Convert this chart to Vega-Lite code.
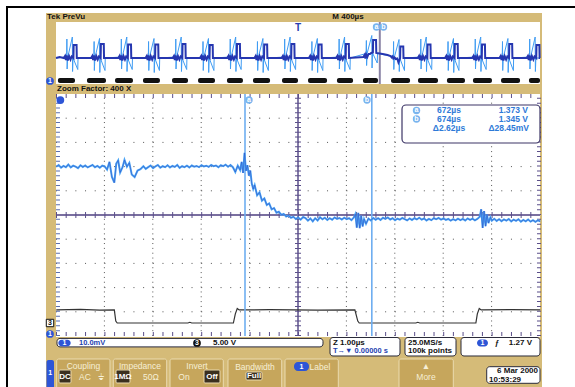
{
"$schema": "https://vega.github.io/schema/vega-lite/v6.json",
"width": 575, "height": 387, "autosize": {"type": "none"}, "padding": 0,
"background": "#ffffff",
"config": {"view": {"stroke": null}},
"datasets": {
"box": [
{"k":"border","x0":-1.0124,"x1":11.5,"y0":-3,"y1":13.595},
{"k":"frame","x0":-0.2066,"x1":10.0413,"y0":-3,"y1":13.3471},
{"k":"white","x0":0,"x1":10.0,"y0":10.4132,"y1":12.9752},
{"k":"white","x0":0,"x1":10.0,"y0":-0.0413,"y1":10.0},
{"k":"button","x0":0.0145,"x1":1.1157,"y0":-2.3,"y1":-0.9504},
{"k":"button","x0":1.1839,"x1":2.2872,"y0":-2.3,"y1":-0.9504},
{"k":"button","x0":2.3554,"x1":3.4566,"y0":-2.3,"y1":-0.9504},
{"k":"button","x0":3.5537,"x1":4.6632,"y0":-2.3,"y1":-0.9504},
{"k":"button","x0":4.7314,"x1":5.8326,"y0":-2.3,"y1":-0.9504},
{"k":"button","x0":7.0868,"x1":8.2087,"y0":-2.3,"y1":-0.9504},
{"k":"box","x0":0.0207,"x1":5.5165,"y0":-0.45,"y1":-0.10},
{"k":"box","x0":5.6612,"x1":7.1074,"y0":-0.8264,"y1":-0.062},
{"k":"box","x0":7.2107,"x1":8.2645,"y0":-0.8264,"y1":-0.062},
{"k":"box","x0":8.3678,"x1":10.0,"y0":-0.8264,"y1":-0.062},
{"k":"box","x0":8.8988,"x1":10.0,"y0":-1.9545,"y1":-1.2686},
{"k":"readout","x0":7.1488,"x1":10.0,"y0":7.9752,"y1":9.5455},
{"k":"sel","x0":0.062,"x1":0.3099,"y0":-1.9421,"y1":-1.405},
{"k":"sel","x0":1.2397,"x1":1.5289,"y0":-1.9421,"y1":-1.405},
{"k":"sel","x0":3.0579,"x1":3.3884,"y0":-1.9421,"y1":-1.405},
{"k":"sel","x0":3.9256,"x1":4.2562,"y0":-1.8182,"y1":-1.4876},
{"k":"tab","x0":-0.1963,"x1":-0.0413,"y0":-2.3,"y1":-0.9917},
{"k":"pill","x0":0.0475,"x1":0.3037,"y0":-0.42,"y1":-0.16},
{"k":"pill","x0":8.6983,"x1":8.9256,"y0":-0.4339,"y1":-0.1446},
{"k":"pill","x0":4.9174,"x1":5.2273,"y0":-1.4463,"y1":-1.0744}
],
"dot": [
{"k":"lb","x":3.9876,"y":9.7521},{"k":"lb","x":6.4256,"y":9.7521},
{"k":"lb","x":7.4483,"y":9.3182},{"k":"lb","x":7.4483,"y":8.9669},
{"k":"lb","x":6.6219,"y":12.7686},{"k":"lb","x":6.7665,"y":12.7686},
{"k":"db","x":-0.124,"y":10.5372},{"k":"db","x":-0.124,"y":0.0826},{"k":"db","x":0.09,"y":9.75},
{"k":"bk","x":2.9132,"y":-0.2893},
{"k":"ws","x":-0.124,"y":0.5372}
],
"txt": [
{"k":"hb","x":-0.186,"y":13.1612,"s":"Tek PreVu"},
{"k":"hb","x":0.0207,"y":10.2066,"s":"Zoom Factor: 400 X"},
{"k":"hb","x":3.2438,"y":-0.2893,"s":"5.00 V"},
{"k":"hb","x":5.7231,"y":-0.2686,"s":"Z 1.00µs"},
{"k":"hb","x":7.2727,"y":-0.2686,"s":"25.0MS/s"},
{"k":"hb","x":7.2727,"y":-0.6198,"s":"100k points"},
{"k":"hb","x":8.9463,"y":-1.8182,"s":"10:53:29"},
{"k":"hbc","x":6.0331,"y":13.1612,"s":"M 400µs"},
{"k":"hbc","x":9.1116,"y":-0.2893,"s":"ƒ"},
{"k":"hbr","x":9.9587,"y":-1.4669,"s":"6 Mar 2000"},
{"k":"hbr","x":9.8347,"y":-0.2893,"s":"1.27 V"},
{"k":"ro","x":8.1198,"y":9.3182,"s":"672µs"},
{"k":"ro","x":8.1198,"y":8.9669,"s":"674µs"},
{"k":"ro","x":8.1198,"y":8.5744,"s":"Δ2.62µs"},
{"k":"ror","x":9.7521,"y":9.3182,"s":"1.373 V"},
{"k":"ror","x":9.7521,"y":8.9669,"s":"1.345 V"},
{"k":"ror","x":9.7727,"y":8.5744,"s":"Δ28.45mV"},
{"k":"bl","x":0.4752,"y":-0.2893,"s":"10.0mV"},
{"k":"bl","x":5.7231,"y":-0.6198,"s":"T→▼ 0.00000 s"},
{"k":"wsm","x":3.9876,"y":9.7521,"s":"a"},{"k":"wsm","x":6.4256,"y":9.7521,"s":"b"},
{"k":"wsm","x":7.4483,"y":9.3182,"s":"a"},{"k":"wsm","x":7.4483,"y":8.9669,"s":"b"},
{"k":"wsm","x":6.6219,"y":12.7686,"s":"a"},{"k":"wsm","x":6.7665,"y":12.7686,"s":"b"},
{"k":"wsm","x":-0.124,"y":10.5372,"s":"1"},{"k":"wsm","x":-0.124,"y":0.0826,"s":"1"},
{"k":"wsm","x":0.1756,"y":-0.2893,"s":"1"},{"k":"wsm","x":8.812,"y":-0.2893,"s":"1"},
{"k":"wsm","x":5.0723,"y":-1.2603,"s":"1"},{"k":"wsm","x":2.9132,"y":-0.2893,"s":"3"},
{"k":"wsm","x":-0.1188,"y":-1.5289,"s":"1"},
{"k":"wmd","x":0.186,"y":-1.6736,"s":"DC"},
{"k":"wmd","x":1.3843,"y":-1.6736,"s":"1MΩ"},
{"k":"wmd","x":3.2231,"y":-1.6736,"s":"Off"},
{"k":"wmd","x":4.0909,"y":-1.6529,"s":"Full"},
{"k":"cc","x":0.5682,"y":-1.2397,"s":"Coupling"},
{"k":"cc","x":1.7355,"y":-1.2397,"s":"Impedance"},
{"k":"cc","x":2.9132,"y":-1.2397,"s":"Invert"},
{"k":"cc","x":4.1116,"y":-1.281,"s":"Bandwidth"},
{"k":"cc","x":5.4545,"y":-1.2603,"s":"Label"},
{"k":"cc","x":7.6446,"y":-1.6942,"s":"More"},
{"k":"cc","x":7.6446,"y":-1.2397,"s":"▲"},
{"k":"cc","x":0.5992,"y":-1.6736,"s":"AC"},
{"k":"cc","x":0.9298,"y":-1.6736,"s":"⏚"},
{"k":"cc","x":1.9628,"y":-1.6736,"s":"50Ω"},
{"k":"cc","x":2.6446,"y":-1.6736,"s":"On"},
{"k":"kc","x":-0.124,"y":0.5372,"s":"3"},
{"k":"tT","x":5.0,"y":12.72,"s":"T"}
],
"pb": [
{"a":-1984,"b":-1843},{"a":-1744,"b":-1587},{"a":-1512,"b":-1364},{"a":-1281,"b":-1141},{"a":-1041,"b":-909},{"a":-826,"b":-686},{"a":-587,"b":-455},{"a":-372,"b":-231},{"a":-132,"b":0},{"a":83,"b":240},{"a":322,"b":455},{"a":537,"b":661},{"a":769,"b":926},{"a":992,"b":1157},{"a":1231,"b":1380},{"a":1446,"b":1603},{"a":1678,"b":1835},{"a":1909,"b":2000}
],
"pd": [
{"t":-2000,"v":1345},{"t":-1970,"v":1347},
{"t":-1935,"v":1345},{"t":-1925,"v":1349},{"t":-1918,"v":1341},{"t":-1912,"v":1350},{"t":-1902,"v":1340},{"t":-1892,"v":1349},{"t":-1880,"v":1342},{"t":-1870,"v":1348},{"t":-1856,"v":1345},{"t":-1854,"v":1371},{"t":-1830,"v":1371},{"t":-1828,"v":1345},
{"t":-1710,"v":1345},{"t":-1700,"v":1349},{"t":-1693,"v":1341},{"t":-1687,"v":1350},{"t":-1677,"v":1340},{"t":-1667,"v":1349},{"t":-1655,"v":1342},{"t":-1645,"v":1348},{"t":-1631,"v":1345},{"t":-1629,"v":1373},{"t":-1605,"v":1373},{"t":-1603,"v":1345},
{"t":-1485,"v":1345},{"t":-1475,"v":1349},{"t":-1468,"v":1341},{"t":-1462,"v":1350},{"t":-1452,"v":1340},{"t":-1442,"v":1349},{"t":-1430,"v":1342},{"t":-1420,"v":1348},{"t":-1406,"v":1345},{"t":-1404,"v":1372},{"t":-1380,"v":1372},{"t":-1378,"v":1345},
{"t":-1260,"v":1345},{"t":-1250,"v":1349},{"t":-1243,"v":1341},{"t":-1237,"v":1350},{"t":-1227,"v":1340},{"t":-1217,"v":1349},{"t":-1205,"v":1342},{"t":-1195,"v":1348},{"t":-1181,"v":1345},{"t":-1179,"v":1372},{"t":-1155,"v":1372},{"t":-1153,"v":1345},
{"t":-1035,"v":1345},{"t":-1025,"v":1349},{"t":-1018,"v":1341},{"t":-1012,"v":1350},{"t":-1002,"v":1340},{"t":-992,"v":1349},{"t":-980,"v":1342},{"t":-970,"v":1348},{"t":-956,"v":1345},{"t":-954,"v":1373},{"t":-930,"v":1373},{"t":-928,"v":1345},
{"t":-810,"v":1345},{"t":-800,"v":1349},{"t":-793,"v":1341},{"t":-787,"v":1350},{"t":-777,"v":1340},{"t":-767,"v":1349},{"t":-755,"v":1342},{"t":-745,"v":1348},{"t":-731,"v":1345},{"t":-729,"v":1371},{"t":-705,"v":1371},{"t":-703,"v":1345},
{"t":-585,"v":1345},{"t":-575,"v":1349},{"t":-568,"v":1341},{"t":-562,"v":1350},{"t":-552,"v":1340},{"t":-542,"v":1349},{"t":-530,"v":1342},{"t":-520,"v":1348},{"t":-506,"v":1345},{"t":-504,"v":1373},{"t":-480,"v":1373},{"t":-478,"v":1345},
{"t":-360,"v":1345},{"t":-350,"v":1349},{"t":-343,"v":1341},{"t":-337,"v":1350},{"t":-327,"v":1340},{"t":-317,"v":1349},{"t":-305,"v":1342},{"t":-295,"v":1348},{"t":-281,"v":1345},{"t":-279,"v":1372},{"t":-255,"v":1372},{"t":-253,"v":1345},
{"t":-135,"v":1345},{"t":-125,"v":1349},{"t":-118,"v":1341},{"t":-112,"v":1350},{"t":-102,"v":1340},{"t":-92,"v":1349},{"t":-80,"v":1342},{"t":-70,"v":1348},{"t":-56,"v":1345},{"t":-54,"v":1373},{"t":-30,"v":1373},{"t":-28,"v":1345},
{"t":90,"v":1345},{"t":100,"v":1349},{"t":107,"v":1341},{"t":113,"v":1350},{"t":123,"v":1340},{"t":133,"v":1349},{"t":145,"v":1342},{"t":155,"v":1348},{"t":169,"v":1345},{"t":171,"v":1372},{"t":195,"v":1372},{"t":197,"v":1345},
{"t":315,"v":1345},{"t":325,"v":1349},{"t":332,"v":1341},{"t":338,"v":1350},{"t":348,"v":1340},{"t":358,"v":1349},{"t":370,"v":1342},{"t":380,"v":1348},{"t":394,"v":1345},{"t":396,"v":1373},{"t":420,"v":1373},{"t":422,"v":1345},
{"t":540,"v":1347},{"t":550,"v":1351},{"t":557,"v":1344},{"t":563,"v":1352},{"t":573,"v":1347},{"t":583,"v":1353},{"t":595,"v":1353},{"t":605,"v":1355},{"t":619,"v":1356},{"t":621,"v":1381},{"t":645,"v":1381},{"t":647,"v":1355},{"t":700,"v":1353},{"t":740,"v":1351},
{"t":765,"v":1349},{"t":775,"v":1346},{"t":782,"v":1348},{"t":788,"v":1344},{"t":798,"v":1346},{"t":808,"v":1343},{"t":820,"v":1344},{"t":830,"v":1336},{"t":844,"v":1345},{"t":846,"v":1368},{"t":870,"v":1368},{"t":872,"v":1345},
{"t":990,"v":1345},{"t":1000,"v":1349},{"t":1007,"v":1341},{"t":1013,"v":1350},{"t":1023,"v":1340},{"t":1033,"v":1349},{"t":1045,"v":1342},{"t":1055,"v":1348},{"t":1069,"v":1345},{"t":1071,"v":1372},{"t":1095,"v":1372},{"t":1097,"v":1345},
{"t":1215,"v":1345},{"t":1225,"v":1349},{"t":1232,"v":1341},{"t":1238,"v":1350},{"t":1248,"v":1340},{"t":1258,"v":1349},{"t":1270,"v":1342},{"t":1280,"v":1348},{"t":1294,"v":1345},{"t":1296,"v":1373},{"t":1320,"v":1373},{"t":1322,"v":1345},
{"t":1440,"v":1345},{"t":1450,"v":1349},{"t":1457,"v":1341},{"t":1463,"v":1350},{"t":1473,"v":1340},{"t":1483,"v":1349},{"t":1495,"v":1342},{"t":1505,"v":1348},{"t":1519,"v":1345},{"t":1521,"v":1372},{"t":1545,"v":1372},{"t":1547,"v":1345},
{"t":1665,"v":1345},{"t":1675,"v":1349},{"t":1682,"v":1341},{"t":1688,"v":1350},{"t":1698,"v":1340},{"t":1708,"v":1349},{"t":1720,"v":1342},{"t":1730,"v":1348},{"t":1744,"v":1345},{"t":1746,"v":1373},{"t":1770,"v":1373},{"t":1772,"v":1345},
{"t":1890,"v":1345},{"t":1900,"v":1349},{"t":1907,"v":1341},{"t":1913,"v":1350},{"t":1923,"v":1340},{"t":1933,"v":1349},{"t":1945,"v":1342},{"t":1955,"v":1348},{"t":1969,"v":1345},{"t":1971,"v":1371},{"t":1995,"v":1371},{"t":1997,"v":1345},
{"t":2000,"v":1345}
],
"pl": [
{"t":-2000,"v":1345},
{"t":-1912,"v":1347},{"t":-1910,"v":1383},{"t":-1908,"v":1323},{"t":-1904,"v":1345},{"t":-1865,"v":1387},{"t":-1863,"v":1318},{"t":-1859,"v":1345},{"t":-1820,"v":1322},{"t":-1818,"v":1345},
{"t":-1687,"v":1346},{"t":-1685,"v":1378},{"t":-1683,"v":1320},{"t":-1679,"v":1345},{"t":-1640,"v":1384},{"t":-1638,"v":1316},{"t":-1634,"v":1345},{"t":-1595,"v":1320},{"t":-1593,"v":1345},
{"t":-1462,"v":1347},{"t":-1460,"v":1383},{"t":-1458,"v":1323},{"t":-1454,"v":1345},{"t":-1415,"v":1387},{"t":-1413,"v":1318},{"t":-1409,"v":1345},{"t":-1370,"v":1322},{"t":-1368,"v":1345},
{"t":-1237,"v":1346},{"t":-1235,"v":1378},{"t":-1233,"v":1320},{"t":-1229,"v":1345},{"t":-1190,"v":1384},{"t":-1188,"v":1316},{"t":-1184,"v":1345},{"t":-1145,"v":1320},{"t":-1143,"v":1345},
{"t":-1012,"v":1347},{"t":-1010,"v":1383},{"t":-1008,"v":1323},{"t":-1004,"v":1345},{"t":-965,"v":1387},{"t":-963,"v":1318},{"t":-959,"v":1345},{"t":-920,"v":1322},{"t":-918,"v":1345},
{"t":-787,"v":1346},{"t":-785,"v":1378},{"t":-783,"v":1320},{"t":-779,"v":1345},{"t":-740,"v":1384},{"t":-738,"v":1316},{"t":-734,"v":1345},{"t":-695,"v":1320},{"t":-693,"v":1345},
{"t":-562,"v":1347},{"t":-560,"v":1383},{"t":-558,"v":1323},{"t":-554,"v":1345},{"t":-515,"v":1387},{"t":-513,"v":1318},{"t":-509,"v":1345},{"t":-470,"v":1322},{"t":-468,"v":1345},
{"t":-337,"v":1346},{"t":-335,"v":1378},{"t":-333,"v":1320},{"t":-329,"v":1345},{"t":-290,"v":1384},{"t":-288,"v":1316},{"t":-284,"v":1345},{"t":-245,"v":1320},{"t":-243,"v":1345},
{"t":-112,"v":1347},{"t":-110,"v":1383},{"t":-108,"v":1323},{"t":-104,"v":1345},{"t":-65,"v":1387},{"t":-63,"v":1318},{"t":-59,"v":1345},{"t":-20,"v":1322},{"t":-18,"v":1345},
{"t":113,"v":1346},{"t":115,"v":1378},{"t":117,"v":1320},{"t":121,"v":1345},{"t":160,"v":1384},{"t":162,"v":1316},{"t":166,"v":1345},{"t":205,"v":1320},{"t":207,"v":1345},
{"t":338,"v":1347},{"t":340,"v":1383},{"t":342,"v":1323},{"t":346,"v":1345},{"t":385,"v":1387},{"t":387,"v":1318},{"t":391,"v":1345},{"t":430,"v":1322},{"t":432,"v":1345},
{"t":563,"v":1354},{"t":565,"v":1380},{"t":567,"v":1330},{"t":571,"v":1354},{"t":610,"v":1390},{"t":612,"v":1325},{"t":616,"v":1355},{"t":655,"v":1335},{"t":657,"v":1354},
{"t":788,"v":1348},{"t":790,"v":1378},{"t":792,"v":1322},{"t":796,"v":1346},{"t":835,"v":1382},{"t":837,"v":1318},{"t":841,"v":1345},{"t":880,"v":1320},{"t":882,"v":1345},
{"t":1013,"v":1347},{"t":1015,"v":1383},{"t":1017,"v":1323},{"t":1021,"v":1345},{"t":1060,"v":1387},{"t":1062,"v":1318},{"t":1066,"v":1345},{"t":1105,"v":1322},{"t":1107,"v":1345},
{"t":1238,"v":1346},{"t":1240,"v":1378},{"t":1242,"v":1320},{"t":1246,"v":1345},{"t":1285,"v":1384},{"t":1287,"v":1316},{"t":1291,"v":1345},{"t":1330,"v":1320},{"t":1332,"v":1345},
{"t":1463,"v":1347},{"t":1465,"v":1383},{"t":1467,"v":1323},{"t":1471,"v":1345},{"t":1510,"v":1387},{"t":1512,"v":1318},{"t":1516,"v":1345},{"t":1555,"v":1322},{"t":1557,"v":1345},
{"t":1688,"v":1346},{"t":1690,"v":1378},{"t":1692,"v":1320},{"t":1696,"v":1345},{"t":1735,"v":1384},{"t":1737,"v":1316},{"t":1741,"v":1345},{"t":1780,"v":1320},{"t":1782,"v":1345},
{"t":1913,"v":1347},{"t":1915,"v":1383},{"t":1917,"v":1323},{"t":1921,"v":1345},{"t":1960,"v":1387},{"t":1962,"v":1318},{"t":1966,"v":1345},
{"t":2000,"v":1345}
],
"c3": [
{"t":668.1,"v":2.7},{"t":668.6,"v":2.8},{"t":669.0,"v":2.65},{"t":669.3,"v":2.7},{"t":669.33,"v":0.4},{"t":669.36,"v":0.0},
{"t":670.82,"v":0.0},{"t":670.86,"v":0.15},{"t":670.9,"v":0.0},{"t":671.76,"v":0.0},{"t":671.8,"v":1.9},{"t":671.84,"v":3.0},{"t":671.88,"v":2.7},
{"t":672.5,"v":2.75},{"t":673.5,"v":2.65},{"t":674.27,"v":2.7},{"t":674.33,"v":0.4},{"t":674.36,"v":0.0},
{"t":675.53,"v":0.0},{"t":675.57,"v":0.15},{"t":675.61,"v":0.0},{"t":676.77,"v":0.0},{"t":676.8,"v":1.9},{"t":676.84,"v":3.0},{"t":676.88,"v":2.7},
{"t":677.5,"v":2.75},{"t":678.1,"v":2.7}
],
"c1": [
{"t":668.10,"v":1366.2},{"t":668.15,"v":1366.9},{"t":668.20,"v":1365.8},{"t":668.25,"v":1366.5},{"t":668.30,"v":1366.0},{"t":668.35,"v":1367.1},{"t":668.40,"v":1365.9},{"t":668.45,"v":1366.6},{"t":668.50,"v":1366.2},{"t":668.55,"v":1365.6},{"t":668.60,"v":1366.8},{"t":668.65,"v":1366.1},{"t":668.70,"v":1366.7},{"t":668.75,"v":1365.9},{"t":668.80,"v":1366.4},{"t":668.85,"v":1366.9},{"t":668.90,"v":1366.0},{"t":668.95,"v":1366.5},{"t":669.00,"v":1365.8},{"t":669.05,"v":1366.6},{"t":669.10,"v":1366.3},
{"t":669.15,"v":1365.0},{"t":669.20,"v":1368.2},{"t":669.25,"v":1362.0},{"t":669.30,"v":1359.6},{"t":669.34,"v":1367.5},{"t":669.38,"v":1368.8},{"t":669.42,"v":1363.8},{"t":669.47,"v":1366.0},{"t":669.51,"v":1369.0},{"t":669.56,"v":1366.2},{"t":669.61,"v":1367.8},{"t":669.66,"v":1363.0},{"t":669.72,"v":1361.9},{"t":669.78,"v":1364.6},{"t":669.84,"v":1365.2},{"t":669.90,"v":1366.4},{"t":669.95,"v":1365.3},{"t":670.00,"v":1366.0},
{"t":670.05,"v":1366.7},{"t":670.10,"v":1365.6},{"t":670.15,"v":1366.3},{"t":670.20,"v":1366.9},{"t":670.25,"v":1365.8},{"t":670.30,"v":1366.4},{"t":670.35,"v":1366.0},{"t":670.40,"v":1366.8},{"t":670.45,"v":1365.9},{"t":670.50,"v":1366.5},{"t":670.55,"v":1366.1},{"t":670.60,"v":1366.9},{"t":670.65,"v":1365.7},{"t":670.70,"v":1366.4},{"t":670.75,"v":1366.0},{"t":670.80,"v":1366.6},{"t":670.85,"v":1365.9},{"t":670.90,"v":1366.7},{"t":670.95,"v":1366.2},{"t":671.00,"v":1366.5},{"t":671.05,"v":1366.0},{"t":671.10,"v":1366.8},{"t":671.15,"v":1366.3},{"t":671.20,"v":1366.6},{"t":671.25,"v":1366.1},{"t":671.30,"v":1366.9},{"t":671.35,"v":1366.4},{"t":671.40,"v":1366.7},{"t":671.45,"v":1366.0},{"t":671.50,"v":1366.8},{"t":671.55,"v":1366.4},{"t":671.60,"v":1367.0},{"t":671.65,"v":1366.2},{"t":671.70,"v":1366.9},{"t":671.75,"v":1366.0},
{"t":671.80,"v":1364.0},{"t":671.85,"v":1366.6},{"t":671.90,"v":1364.8},{"t":671.93,"v":1368.2},{"t":671.96,"v":1363.6},{"t":671.99,"v":1371.9},{"t":672.02,"v":1364.5},{"t":672.05,"v":1366.8},{"t":672.08,"v":1362.5},{"t":672.11,"v":1364.6},{"t":672.14,"v":1359.2},{"t":672.17,"v":1357.0},{"t":672.20,"v":1358.6},{"t":672.25,"v":1354.4},{"t":672.30,"v":1355.6},{"t":672.35,"v":1352.2},{"t":672.40,"v":1353.1},{"t":672.45,"v":1350.4},{"t":672.50,"v":1351.0},{"t":672.55,"v":1348.6},{"t":672.60,"v":1349.1},{"t":672.65,"v":1347.2},{"t":672.70,"v":1347.6},{"t":672.75,"v":1346.3},{"t":672.80,"v":1346.7},{"t":672.85,"v":1345.6},{"t":672.90,"v":1346.0},{"t":672.95,"v":1345.1},
{"t":673.00,"v":1345.5},{"t":673.05,"v":1344.6},{"t":673.10,"v":1345.2},{"t":673.15,"v":1344.3},{"t":673.20,"v":1345.4},{"t":673.25,"v":1345.0},{"t":673.30,"v":1343.9},{"t":673.35,"v":1344.8},{"t":673.40,"v":1343.6},{"t":673.45,"v":1344.9},{"t":673.50,"v":1344.0},{"t":673.55,"v":1345.3},{"t":673.60,"v":1344.5},{"t":673.65,"v":1345.1},{"t":673.70,"v":1344.2},{"t":673.75,"v":1344.9},{"t":673.80,"v":1344.3},{"t":673.85,"v":1345.2},{"t":673.90,"v":1344.6},{"t":673.95,"v":1345.0},{"t":674.00,"v":1344.4},{"t":674.05,"v":1345.1},{"t":674.10,"v":1344.5},{"t":674.15,"v":1344.9},{"t":674.20,"v":1344.1},
{"t":674.25,"v":1345.3},{"t":674.28,"v":1346.6},{"t":674.31,"v":1341.0},{"t":674.34,"v":1347.1},{"t":674.37,"v":1340.8},{"t":674.40,"v":1346.0},{"t":674.43,"v":1341.5},{"t":674.46,"v":1344.6},{"t":674.50,"v":1342.6},{"t":674.55,"v":1344.8},{"t":674.60,"v":1344.0},{"t":674.65,"v":1345.0},{"t":674.70,"v":1344.3},{"t":674.75,"v":1344.9},{"t":674.80,"v":1344.2},{"t":674.85,"v":1345.1},{"t":674.90,"v":1344.6},{"t":674.95,"v":1345.2},
{"t":675.00,"v":1344.4},{"t":675.05,"v":1344.9},{"t":675.10,"v":1344.1},{"t":675.15,"v":1344.7},{"t":675.20,"v":1344.3},{"t":675.25,"v":1345.0},{"t":675.30,"v":1344.5},{"t":675.35,"v":1344.0},{"t":675.40,"v":1344.8},{"t":675.45,"v":1344.2},{"t":675.50,"v":1344.9},{"t":675.55,"v":1344.4},{"t":675.60,"v":1345.1},{"t":675.65,"v":1344.3},{"t":675.70,"v":1344.8},{"t":675.75,"v":1344.0},{"t":675.80,"v":1344.6},{"t":675.85,"v":1344.1},{"t":675.90,"v":1344.9},{"t":675.95,"v":1344.5},
{"t":676.00,"v":1345.0},{"t":676.05,"v":1344.3},{"t":676.10,"v":1344.8},{"t":676.15,"v":1344.2},{"t":676.20,"v":1344.6},{"t":676.25,"v":1343.9},{"t":676.30,"v":1344.5},{"t":676.35,"v":1344.0},{"t":676.40,"v":1344.7},{"t":676.45,"v":1344.1},{"t":676.50,"v":1344.6},{"t":676.55,"v":1344.0},{"t":676.60,"v":1344.8},{"t":676.65,"v":1344.2},{"t":676.70,"v":1344.7},{"t":676.75,"v":1344.0},{"t":676.80,"v":1344.6},
{"t":676.85,"v":1345.5},{"t":676.88,"v":1348.6},{"t":676.91,"v":1340.9},{"t":676.94,"v":1347.9},{"t":676.97,"v":1341.6},{"t":677.00,"v":1346.5},{"t":677.03,"v":1342.9},{"t":677.07,"v":1345.3},{"t":677.10,"v":1343.9},{"t":677.15,"v":1344.7},{"t":677.20,"v":1343.8},{"t":677.25,"v":1344.5},{"t":677.30,"v":1343.7},{"t":677.35,"v":1344.4},{"t":677.40,"v":1343.9},{"t":677.45,"v":1344.6},{"t":677.50,"v":1343.6},{"t":677.55,"v":1344.3},{"t":677.60,"v":1343.8},{"t":677.65,"v":1344.5},{"t":677.70,"v":1343.5},{"t":677.75,"v":1344.2},{"t":677.80,"v":1343.6},{"t":677.85,"v":1344.4},{"t":677.90,"v":1343.5},{"t":677.95,"v":1344.1},{"t":678.00,"v":1343.4},{"t":678.05,"v":1344.0},{"t":678.10,"v":1343.6}
],
"cur": [{"t":672.0,"c":"a"},{"t":674.62,"c":"b"}],
"gv": [{"g":1},{"g":2},{"g":3},{"g":4},{"g":6},{"g":7},{"g":8},{"g":9}]
},
"layer": [
{"data":{"name":"box"},"transform":[{"filter":"datum.k=='border'"}],"mark":{"type":"rect","fill":"#ffffff","stroke":"#000000","strokeWidth":2},
 "encoding":{"x":{"field":"x0","type":"quantitative","scale":{"domain":[-1.157,10.7231],"nice":false,"zero":false},"axis":null},"x2":{"field":"x1"},"y":{"field":"y0","type":"quantitative","scale":{"domain":[-2.1074,13.8843],"nice":false,"zero":false},"axis":null},"y2":{"field":"y1"}}},
{"data":{"name":"box"},"transform":[{"filter":"datum.k=='frame'"}],"mark":{"type":"rect","fill":"#d5bb78"},
 "encoding":{"x":{"field":"x0","type":"quantitative","scale":{"domain":[-1.157,10.7231],"nice":false,"zero":false},"axis":null},"x2":{"field":"x1"},"y":{"field":"y0","type":"quantitative","scale":{"domain":[-2.1074,13.8843],"nice":false,"zero":false},"axis":null},"y2":{"field":"y1"}}},
{"data":{"name":"box"},"transform":[{"filter":"datum.k=='white'"}],"mark":{"type":"rect","fill":"#ffffff"},
 "encoding":{"x":{"field":"x0","type":"quantitative","scale":{"domain":[-1.157,10.7231],"nice":false,"zero":false},"axis":null},"x2":{"field":"x1"},"y":{"field":"y0","type":"quantitative","scale":{"domain":[-2.1074,13.8843],"nice":false,"zero":false},"axis":null},"y2":{"field":"y1"}}},
{"data":{"name":"pb"},"mark":{"type":"rect","fill":"#111111","cornerRadius":2},
 "encoding":{"x":{"field":"a","type":"quantitative","scale":{"domain":[-2462.8,2289.3],"nice":false,"zero":false},"axis":null},"x2":{"field":"b"},"y":{"datum":10.6612,"type":"quantitative","scale":{"domain":[-2.1074,13.8843],"nice":false,"zero":false},"axis":null},"y2":{"datum":10.4545}}},
{"data":{"name":"gv"},"mark":{"type":"rule","color":"#555555","strokeWidth":1,"strokeDash":[1,3.84]},
 "encoding":{"x":{"field":"g","type":"quantitative","scale":{"domain":[-1.157,10.7231],"nice":false,"zero":false},"axis":null},"y":{"datum":0,"type":"quantitative","scale":{"domain":[-2.1074,13.8843],"nice":false,"zero":false},"axis":null},"y2":{"datum":10}}},
{"data":{"name":"gv"},"mark":{"type":"rule","color":"#555555","strokeWidth":1,"strokeDash":[1,8.68]},
 "encoding":{"y":{"field":"g","type":"quantitative","scale":{"domain":[-2.1074,13.8843],"nice":false,"zero":false},"axis":null},"x":{"datum":0,"type":"quantitative","scale":{"domain":[-1.157,10.7231],"nice":false,"zero":false},"axis":null},"x2":{"datum":10}}},
{"data":{"values":[{}]},"mark":{"type":"rule","color":"#5b4f8a","strokeWidth":4,"strokeDash":[1,8.68]},
 "encoding":{"y":{"datum":9.917,"type":"quantitative","scale":{"domain":[-2.1074,13.8843],"nice":false,"zero":false},"axis":null},"x":{"datum":0,"type":"quantitative","scale":{"domain":[-1.157,10.7231],"nice":false,"zero":false},"axis":null},"x2":{"datum":10}}},
{"data":{"values":[{}]},"mark":{"type":"rule","color":"#5b4f8a","strokeWidth":4,"strokeDash":[1,8.68]},
 "encoding":{"y":{"datum":0.083,"type":"quantitative","scale":{"domain":[-2.1074,13.8843],"nice":false,"zero":false},"axis":null},"x":{"datum":0,"type":"quantitative","scale":{"domain":[-1.157,10.7231],"nice":false,"zero":false},"axis":null},"x2":{"datum":10}}},
{"data":{"values":[{}]},"mark":{"type":"rule","color":"#5b6fb0","strokeWidth":4,"strokeDash":[1,3.84]},
 "encoding":{"x":{"datum":0.041,"type":"quantitative","scale":{"domain":[-1.157,10.7231],"nice":false,"zero":false},"axis":null},"y":{"datum":0,"type":"quantitative","scale":{"domain":[-2.1074,13.8843],"nice":false,"zero":false},"axis":null},"y2":{"datum":10}}},
{"data":{"values":[{}]},"mark":{"type":"rule","color":"#5b4f8a","strokeWidth":4,"strokeDash":[1,3.84]},
 "encoding":{"x":{"datum":9.979,"type":"quantitative","scale":{"domain":[-1.157,10.7231],"nice":false,"zero":false},"axis":null},"y":{"datum":0,"type":"quantitative","scale":{"domain":[-2.1074,13.8843],"nice":false,"zero":false},"axis":null},"y2":{"datum":10}}},
{"data":{"values":[{}]},"mark":{"type":"rule","color":"#5b4f8a","strokeWidth":1.5},
 "encoding":{"x":{"datum":5,"type":"quantitative","scale":{"domain":[-1.157,10.7231],"nice":false,"zero":false},"axis":null},"y":{"datum":0,"type":"quantitative","scale":{"domain":[-2.1074,13.8843],"nice":false,"zero":false},"axis":null},"y2":{"datum":10}}},
{"data":{"values":[{}]},"mark":{"type":"rule","color":"#5b4f8a","strokeWidth":6,"strokeDash":[1,3.84]},
 "encoding":{"x":{"datum":5,"type":"quantitative","scale":{"domain":[-1.157,10.7231],"nice":false,"zero":false},"axis":null},"y":{"datum":0,"type":"quantitative","scale":{"domain":[-2.1074,13.8843],"nice":false,"zero":false},"axis":null},"y2":{"datum":10}}},
{"data":{"values":[{}]},"mark":{"type":"rule","color":"#7a6fa0","strokeWidth":2},
 "encoding":{"y":{"datum":5,"type":"quantitative","scale":{"domain":[-2.1074,13.8843],"nice":false,"zero":false},"axis":null},"x":{"datum":0,"type":"quantitative","scale":{"domain":[-1.157,10.7231],"nice":false,"zero":false},"axis":null},"x2":{"datum":10}}},
{"data":{"values":[{}]},"mark":{"type":"rule","color":"#5b4f8a","strokeWidth":6,"strokeDash":[1,8.68]},
 "encoding":{"y":{"datum":5,"type":"quantitative","scale":{"domain":[-2.1074,13.8843],"nice":false,"zero":false},"axis":null},"x":{"datum":0,"type":"quantitative","scale":{"domain":[-1.157,10.7231],"nice":false,"zero":false},"axis":null},"x2":{"datum":10}}},
{"data":{"values":[{}]},"mark":{"type":"rule","color":"#8a83a6","strokeWidth":2},
 "encoding":{"x":{"datum":676,"type":"quantitative","scale":{"domain":[-2462.8,2289.3],"nice":false,"zero":false},"axis":null},"y":{"datum":10.4132,"type":"quantitative","scale":{"domain":[-2.1074,13.8843],"nice":false,"zero":false},"axis":null},"y2":{"datum":12.9752}}},
{"data":{"name":"pl"},"mark":{"type":"line","color":"#3f9cf3","strokeWidth":1},
 "encoding":{"x":{"field":"t","type":"quantitative","scale":{"domain":[-2462.8,2289.3],"nice":false,"zero":false},"axis":null},"y":{"field":"v","type":"quantitative","scale":{"domain":[687,1461],"nice":false,"zero":false},"axis":null}}},
{"data":{"name":"pd"},"mark":{"type":"line","color":"#2536b0","strokeWidth":2},
 "encoding":{"x":{"field":"t","type":"quantitative","scale":{"domain":[-2462.8,2289.3],"nice":false,"zero":false},"axis":null},"y":{"field":"v","type":"quantitative","scale":{"domain":[687,1461],"nice":false,"zero":false},"axis":null}}},
{"data":{"name":"c3"},"mark":{"type":"line","color":"#333333","strokeWidth":1.2},
 "encoding":{"x":{"field":"t","type":"quantitative","scale":{"domain":[666.938,678.818],"nice":false,"zero":false},"axis":null},"y":{"field":"v","type":"quantitative","scale":{"domain":[-13.223,66.736],"nice":false,"zero":false},"axis":null}}},
{"data":{"name":"cur"},"mark":{"type":"rule","color":"#6eaef0","strokeWidth":1.6},
 "encoding":{"x":{"field":"t","type":"quantitative","scale":{"domain":[666.938,678.818],"nice":false,"zero":false},"axis":null},"y":{"datum":0,"type":"quantitative","scale":{"domain":[-2.1074,13.8843],"nice":false,"zero":false},"axis":null},"y2":{"datum":10}}},
{"data":{"name":"c1"},"mark":{"type":"line","color":"#4da6f5","strokeWidth":2},
 "encoding":{"x":{"field":"t","type":"quantitative","scale":{"domain":[666.938,678.818],"nice":false,"zero":false},"axis":null},"y":{"field":"v","type":"quantitative","scale":{"domain":[1275.165,1435.083],"nice":false,"zero":false},"axis":null}}},
{"data":{"name":"c1"},"mark":{"type":"line","color":"#2a45c0","strokeWidth":0.7,"opacity":0.7},
 "encoding":{"x":{"field":"t","type":"quantitative","scale":{"domain":[666.938,678.818],"nice":false,"zero":false},"axis":null},"y":{"field":"v","type":"quantitative","scale":{"domain":[1275.165,1435.083],"nice":false,"zero":false},"axis":null}}},
{"data":{"name":"box"},"transform":[{"filter":"datum.k=='readout'"}],"mark":{"type":"rect","fill":"#ffffff","stroke":"#3c3566","strokeWidth":1.2,"cornerRadius":4},
 "encoding":{"x":{"field":"x0","type":"quantitative","scale":{"domain":[-1.157,10.7231],"nice":false,"zero":false},"axis":null},"x2":{"field":"x1"},"y":{"field":"y0","type":"quantitative","scale":{"domain":[-2.1074,13.8843],"nice":false,"zero":false},"axis":null},"y2":{"field":"y1"}}},
{"data":{"name":"box"},"transform":[{"filter":"datum.k=='button'"}],"mark":{"type":"rect","fill":"#c6a65c","stroke":"#eadbb0","strokeWidth":1,"cornerRadius":2},
 "encoding":{"x":{"field":"x0","type":"quantitative","scale":{"domain":[-1.157,10.7231],"nice":false,"zero":false},"axis":null},"x2":{"field":"x1"},"y":{"field":"y0","type":"quantitative","scale":{"domain":[-2.1074,13.8843],"nice":false,"zero":false},"axis":null},"y2":{"field":"y1"}}},
{"data":{"name":"box"},"transform":[{"filter":"datum.k=='box'"}],"mark":{"type":"rect","fill":"#ffffff","stroke":"#2a2a3a","strokeWidth":1,"cornerRadius":3},
 "encoding":{"x":{"field":"x0","type":"quantitative","scale":{"domain":[-1.157,10.7231],"nice":false,"zero":false},"axis":null},"x2":{"field":"x1"},"y":{"field":"y0","type":"quantitative","scale":{"domain":[-2.1074,13.8843],"nice":false,"zero":false},"axis":null},"y2":{"field":"y1"}}},
{"data":{"name":"box"},"transform":[{"filter":"datum.k=='sel'"}],"mark":{"type":"rect","fill":"#3a2f1f","stroke":"#eadbb0","strokeWidth":1,"cornerRadius":1},
 "encoding":{"x":{"field":"x0","type":"quantitative","scale":{"domain":[-1.157,10.7231],"nice":false,"zero":false},"axis":null},"x2":{"field":"x1"},"y":{"field":"y0","type":"quantitative","scale":{"domain":[-2.1074,13.8843],"nice":false,"zero":false},"axis":null},"y2":{"field":"y1"}}},
{"data":{"name":"box"},"transform":[{"filter":"datum.k=='tab'"}],"mark":{"type":"rect","fill":"#2d55d6","cornerRadius":2},
 "encoding":{"x":{"field":"x0","type":"quantitative","scale":{"domain":[-1.157,10.7231],"nice":false,"zero":false},"axis":null},"x2":{"field":"x1"},"y":{"field":"y0","type":"quantitative","scale":{"domain":[-2.1074,13.8843],"nice":false,"zero":false},"axis":null},"y2":{"field":"y1"}}},
{"data":{"name":"box"},"transform":[{"filter":"datum.k=='pill'"}],"mark":{"type":"rect","fill":"#2d55d6","cornerRadius":4},
 "encoding":{"x":{"field":"x0","type":"quantitative","scale":{"domain":[-1.157,10.7231],"nice":false,"zero":false},"axis":null},"x2":{"field":"x1"},"y":{"field":"y0","type":"quantitative","scale":{"domain":[-2.1074,13.8843],"nice":false,"zero":false},"axis":null},"y2":{"field":"y1"}}},
{"data":{"name":"dot"},"transform":[{"filter":"datum.k=='lb'"}],"mark":{"type":"point","shape":"circle","filled":true,"size":55,"color":"#79b4ee","opacity":1},
 "encoding":{"x":{"field":"x","type":"quantitative","scale":{"domain":[-1.157,10.7231],"nice":false,"zero":false},"axis":null},"y":{"field":"y","type":"quantitative","scale":{"domain":[-2.1074,13.8843],"nice":false,"zero":false},"axis":null}}},
{"data":{"name":"dot"},"transform":[{"filter":"datum.k=='db'"}],"mark":{"type":"point","shape":"circle","filled":true,"size":60,"color":"#2d55d6","opacity":1},
 "encoding":{"x":{"field":"x","type":"quantitative","scale":{"domain":[-1.157,10.7231],"nice":false,"zero":false},"axis":null},"y":{"field":"y","type":"quantitative","scale":{"domain":[-2.1074,13.8843],"nice":false,"zero":false},"axis":null}}},
{"data":{"name":"dot"},"transform":[{"filter":"datum.k=='bk'"}],"mark":{"type":"point","shape":"circle","filled":true,"size":60,"color":"#111111","opacity":1},
 "encoding":{"x":{"field":"x","type":"quantitative","scale":{"domain":[-1.157,10.7231],"nice":false,"zero":false},"axis":null},"y":{"field":"y","type":"quantitative","scale":{"domain":[-2.1074,13.8843],"nice":false,"zero":false},"axis":null}}},
{"data":{"name":"dot"},"transform":[{"filter":"datum.k=='ws'"}],"mark":{"type":"point","shape":"square","filled":true,"size":55,"fill":"#ffffff","stroke":"#111111","strokeWidth":1,"opacity":1},
 "encoding":{"x":{"field":"x","type":"quantitative","scale":{"domain":[-1.157,10.7231],"nice":false,"zero":false},"axis":null},"y":{"field":"y","type":"quantitative","scale":{"domain":[-2.1074,13.8843],"nice":false,"zero":false},"axis":null}}},
{"data":{"name":"txt"},"transform":[{"filter":"datum.k=='hb'"}],"mark":{"type":"text","font":"Liberation Sans","fontWeight":"bold","fontSize":8,"align":"left","baseline":"middle","color":"#111111"},
 "encoding":{"x":{"field":"x","type":"quantitative","scale":{"domain":[-1.157,10.7231],"nice":false,"zero":false},"axis":null},"y":{"field":"y","type":"quantitative","scale":{"domain":[-2.1074,13.8843],"nice":false,"zero":false},"axis":null},"text":{"field":"s"}}},
{"data":{"name":"txt"},"transform":[{"filter":"datum.k=='hbc'"}],"mark":{"type":"text","font":"Liberation Sans","fontWeight":"bold","fontSize":8,"align":"center","baseline":"middle","color":"#111111"},
 "encoding":{"x":{"field":"x","type":"quantitative","scale":{"domain":[-1.157,10.7231],"nice":false,"zero":false},"axis":null},"y":{"field":"y","type":"quantitative","scale":{"domain":[-2.1074,13.8843],"nice":false,"zero":false},"axis":null},"text":{"field":"s"}}},
{"data":{"name":"txt"},"transform":[{"filter":"datum.k=='hbr'"}],"mark":{"type":"text","font":"Liberation Sans","fontWeight":"bold","fontSize":8,"align":"right","baseline":"middle","color":"#111111"},
 "encoding":{"x":{"field":"x","type":"quantitative","scale":{"domain":[-1.157,10.7231],"nice":false,"zero":false},"axis":null},"y":{"field":"y","type":"quantitative","scale":{"domain":[-2.1074,13.8843],"nice":false,"zero":false},"axis":null},"text":{"field":"s"}}},
{"data":{"name":"txt"},"transform":[{"filter":"datum.k=='ro'"}],"mark":{"type":"text","font":"Liberation Sans","fontWeight":"bold","fontSize":8.5,"align":"center","baseline":"middle","color":"#2e7ad8"},
 "encoding":{"x":{"field":"x","type":"quantitative","scale":{"domain":[-1.157,10.7231],"nice":false,"zero":false},"axis":null},"y":{"field":"y","type":"quantitative","scale":{"domain":[-2.1074,13.8843],"nice":false,"zero":false},"axis":null},"text":{"field":"s"}}},
{"data":{"name":"txt"},"transform":[{"filter":"datum.k=='ror'"}],"mark":{"type":"text","font":"Liberation Sans","fontWeight":"bold","fontSize":8.5,"align":"right","baseline":"middle","color":"#2e7ad8"},
 "encoding":{"x":{"field":"x","type":"quantitative","scale":{"domain":[-1.157,10.7231],"nice":false,"zero":false},"axis":null},"y":{"field":"y","type":"quantitative","scale":{"domain":[-2.1074,13.8843],"nice":false,"zero":false},"axis":null},"text":{"field":"s"}}},
{"data":{"name":"txt"},"transform":[{"filter":"datum.k=='bl'"}],"mark":{"type":"text","font":"Liberation Sans","fontWeight":"bold","fontSize":7.5,"align":"left","baseline":"middle","color":"#1f3fb0"},
 "encoding":{"x":{"field":"x","type":"quantitative","scale":{"domain":[-1.157,10.7231],"nice":false,"zero":false},"axis":null},"y":{"field":"y","type":"quantitative","scale":{"domain":[-2.1074,13.8843],"nice":false,"zero":false},"axis":null},"text":{"field":"s"}}},
{"data":{"name":"txt"},"transform":[{"filter":"datum.k=='wsm'"}],"mark":{"type":"text","font":"Liberation Sans","fontWeight":"bold","fontSize":7,"align":"center","baseline":"middle","color":"#ffffff"},
 "encoding":{"x":{"field":"x","type":"quantitative","scale":{"domain":[-1.157,10.7231],"nice":false,"zero":false},"axis":null},"y":{"field":"y","type":"quantitative","scale":{"domain":[-2.1074,13.8843],"nice":false,"zero":false},"axis":null},"text":{"field":"s"}}},
{"data":{"name":"txt"},"transform":[{"filter":"datum.k=='wmd'"}],"mark":{"type":"text","font":"Liberation Sans","fontWeight":"bold","fontSize":8,"align":"center","baseline":"middle","color":"#ffffff"},
 "encoding":{"x":{"field":"x","type":"quantitative","scale":{"domain":[-1.157,10.7231],"nice":false,"zero":false},"axis":null},"y":{"field":"y","type":"quantitative","scale":{"domain":[-2.1074,13.8843],"nice":false,"zero":false},"axis":null},"text":{"field":"s"}}},
{"data":{"name":"txt"},"transform":[{"filter":"datum.k=='cc'"}],"mark":{"type":"text","font":"Liberation Sans","fontSize":8.5,"align":"center","baseline":"middle","color":"#f6efd6"},
 "encoding":{"x":{"field":"x","type":"quantitative","scale":{"domain":[-1.157,10.7231],"nice":false,"zero":false},"axis":null},"y":{"field":"y","type":"quantitative","scale":{"domain":[-2.1074,13.8843],"nice":false,"zero":false},"axis":null},"text":{"field":"s"}}},
{"data":{"name":"txt"},"transform":[{"filter":"datum.k=='kc'"}],"mark":{"type":"text","font":"Liberation Sans","fontWeight":"bold","fontSize":7,"align":"center","baseline":"middle","color":"#111111"},
 "encoding":{"x":{"field":"x","type":"quantitative","scale":{"domain":[-1.157,10.7231],"nice":false,"zero":false},"axis":null},"y":{"field":"y","type":"quantitative","scale":{"domain":[-2.1074,13.8843],"nice":false,"zero":false},"axis":null},"text":{"field":"s"}}},
{"data":{"name":"txt"},"transform":[{"filter":"datum.k=='tT'"}],"mark":{"type":"text","font":"Liberation Sans","fontWeight":"bold","fontSize":10,"align":"center","baseline":"middle","color":"#2a3fb0"},
 "encoding":{"x":{"field":"x","type":"quantitative","scale":{"domain":[-1.157,10.7231],"nice":false,"zero":false},"axis":null},"y":{"field":"y","type":"quantitative","scale":{"domain":[-2.1074,13.8843],"nice":false,"zero":false},"axis":null},"text":{"field":"s"}}}
],
"resolve": {"scale": {"x": "independent", "y": "independent"}}
}
